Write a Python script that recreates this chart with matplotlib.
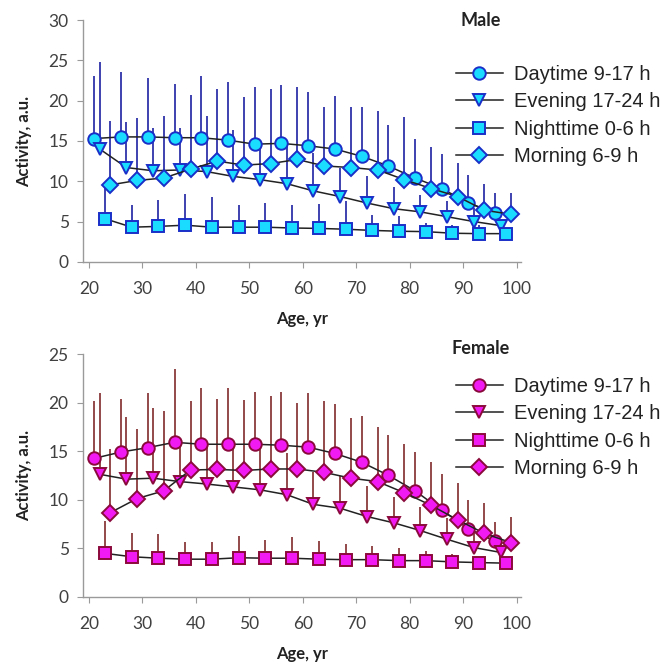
import matplotlib
matplotlib.use("Agg")
import matplotlib.pyplot as plt
import numpy as np

# ages of each series (series are offset by one year)
day_x = [21, 26, 31, 36, 41, 46, 51, 56, 61, 66, 71, 76, 81, 86, 91, 96]
eve_x = [22, 27, 32, 37, 42, 47, 52, 57, 62, 67, 72, 77, 82, 87, 92, 97]
night_x = [23, 28, 33, 38, 43, 48, 53, 58, 63, 68, 73, 78, 83, 88, 93, 98]
morn_x = [24, 29, 34, 39, 44, 49, 54, 59, 64, 69, 74, 79, 84, 89, 94, 99]

labels = ["Daytime 9-17 h", "Evening 17-24 h", "Nighttime 0-6 h", "Morning 6-9 h"]

# male: mean and top of error bar
male_day = [15.3, 15.5, 15.5, 15.4, 15.4, 15.1, 14.6, 14.7, 14.4, 14.0, 13.1, 11.9, 10.4, 9.1, 7.3, 6.1]
male_day_top = [23.0, 23.5, 22.8, 22.1, 23.0, 22.3, 21.7, 21.9, 21.1, 20.6, 19.2, 17.0, 15.2, 13.4, 10.8, 8.5]
male_eve = [14.0, 11.7, 11.3, 11.4, 11.2, 10.6, 10.2, 9.7, 8.8, 8.1, 7.3, 6.6, 6.2, 5.6, 5.0, 4.5]
male_eve_top = [24.8, 17.4, 16.6, 16.6, 18.1, 16.4, 14.8, 14.5, 13.5, 11.7, 10.7, 9.3, 8.3, 7.6, 6.65, 5.0]
male_night = [5.35, 4.3, 4.4, 4.55, 4.3, 4.3, 4.3, 4.2, 4.15, 4.05, 3.9, 3.8, 3.75, 3.55, 3.5, 3.5]
male_night_top = [9.5, 7.1, 7.7, 8.4, 8.0, 7.1, 7.35, 7.1, 7.15, 7.6, 5.8, 5.7, 4.8, 4.6, 4.6, 3.9]
male_morn = [9.55, 10.1, 10.4, 11.5, 12.5, 12.0, 12.2, 12.7, 11.9, 11.7, 11.4, 10.2, 9.1, 8.1, 6.4, 5.9]
male_morn_top = [17.5, 17.8, 18.1, 20.7, 21.5, 20.4, 21.4, 21.7, 19.2, 19.2, 18.75, 18.0, 14.2, 12.3, 9.7, 8.6]

# female
fem_day = [14.25, 14.9, 15.35, 15.9, 15.7, 15.7, 15.7, 15.6, 15.4, 14.75, 13.85, 12.5, 10.9, 8.9, 7.0, 5.7]
fem_day_top = [20.15, 20.4, 20.95, 23.5, 21.5, 21.45, 21.1, 21.1, 20.95, 19.8, 18.6, 16.65, 14.9, 12.65, 10.0, 7.65]
fem_eve = [12.6, 12.1, 12.2, 11.85, 11.6, 11.3, 11.0, 10.5, 9.5, 9.1, 8.25, 7.6, 6.8, 5.9, 5.05, 4.55]
fem_eve_top = [20.95, 18.5, 19.4, 16.0, 15.8, 15.5, 15.3, 14.75, 12.8, 12.4, 11.4, 10.3, 9.25, 8.05, 7.2, 5.2]
fem_night = [4.45, 4.1, 3.95, 3.85, 3.85, 4.0, 3.95, 3.95, 3.85, 3.8, 3.8, 3.7, 3.7, 3.57, 3.5, 3.44]
fem_night_top = [7.8, 6.5, 6.4, 5.65, 5.65, 6.2, 5.85, 6.1, 5.75, 5.4, 5.2, 5.0, 4.65, 4.4, 3.8, 3.6]
fem_morn = [8.65, 10.1, 10.9, 13.05, 13.1, 13.0, 13.15, 13.15, 12.8, 12.2, 11.85, 10.7, 9.4, 7.9, 6.5, 5.55]
fem_morn_top = [15.2, 17.3, 19.15, 20.2, 20.4, 20.25, 20.65, 20.0, 20.15, 18.45, 17.45, 15.7, 13.85, 11.75, 9.6, 8.25]

markers = ["o", "v", "s", "D"]
msizes = [9, 8.5, 8.5, 8.5]

fig = plt.figure(figsize=(6.66, 6.68), dpi=100)
ax1 = fig.add_axes([0.124, 0.608, 0.658, 0.362])
ax2 = fig.add_axes([0.124, 0.107, 0.658, 0.363])

tick_font = "Lato"


def draw_panel(ax, xs, ys, tops, face, edge, barc, ymax, title, title_y, leg_y):
    for i in range(4):
        x = np.array(xs[i])
        y = np.array(ys[i])
        t = np.array(tops[i])
        ax.vlines(x, y, t, color=barc, lw=1.3, zorder=1)
    for i in range(4):
        ax.plot(xs[i], ys[i], color="#222222", lw=1.1, marker=markers[i],
                ms=msizes[i], mfc=face, mec=edge, mew=1.4, zorder=3 + i,
                label=labels[i])
    ax.set_xlim(18.8, 100.8)
    ax.set_ylim(0, ymax)
    ax.set_xticks([20, 30, 40, 50, 60, 70, 80, 90, 100])
    ax.set_yticks(np.arange(0, ymax + 1, 5))
    for s in ["top", "right"]:
        ax.spines[s].set_visible(False)
    for s in ["left", "bottom"]:
        ax.spines[s].set_color("#9a9a9a")
        ax.spines[s].set_linewidth(1.0)
    ax.tick_params(direction="out", length=4, color="#9a9a9a", labelsize=12.5,
                   labelcolor="#404040")
    ax.tick_params(axis="x", pad=10)
    ax.tick_params(axis="y", pad=6)
    for lab in ax.get_xticklabels() + ax.get_yticklabels():
        lab.set_fontfamily(tick_font)
    ax.set_xlabel("Age, yr", fontsize=12, fontweight="bold", fontfamily=tick_font,
                  color="#222222", labelpad=10)
    ax.set_ylabel("Activity, a.u.", fontsize=12, fontweight="bold", fontfamily=tick_font,
                  color="#222222", labelpad=12)
    fig.text(0.722, title_y, title, fontsize=13, fontweight="bold", fontfamily=tick_font,
             ha="center", va="center", color="#222222")
    leg = ax.legend(loc="upper left", bbox_to_anchor=(0.685, leg_y),
                    bbox_transform=fig.transFigure, frameon=False,
                    prop={"family": "Liberation Sans", "size": 14.5},
                    handlelength=2.3, handletextpad=0.55, labelspacing=0.42,
                    borderpad=0, borderaxespad=0)
    for txt in leg.get_texts():
        txt.set_color("#222222")


draw_panel(ax1, [day_x, eve_x, night_x, morn_x],
           [male_day, male_eve, male_night, male_morn],
           [male_day_top, male_eve_top, male_night_top, male_morn_top],
           "#19dcff", "#1a2fc8", "#2f32a8", 30, "Male", 1 - 20 / 668, 1 - 65 / 668)
draw_panel(ax2, [day_x, eve_x, night_x, morn_x],
           [fem_day, fem_eve, fem_night, fem_morn],
           [fem_day_top, fem_eve_top, fem_night_top, fem_morn_top],
           "#f21af2", "#8a0a3c", "#8b3a3a", 25, "Female", 1 - 348 / 668, 1 - 377 / 668)

fig.savefig("out.png", dpi=100, facecolor="white")
